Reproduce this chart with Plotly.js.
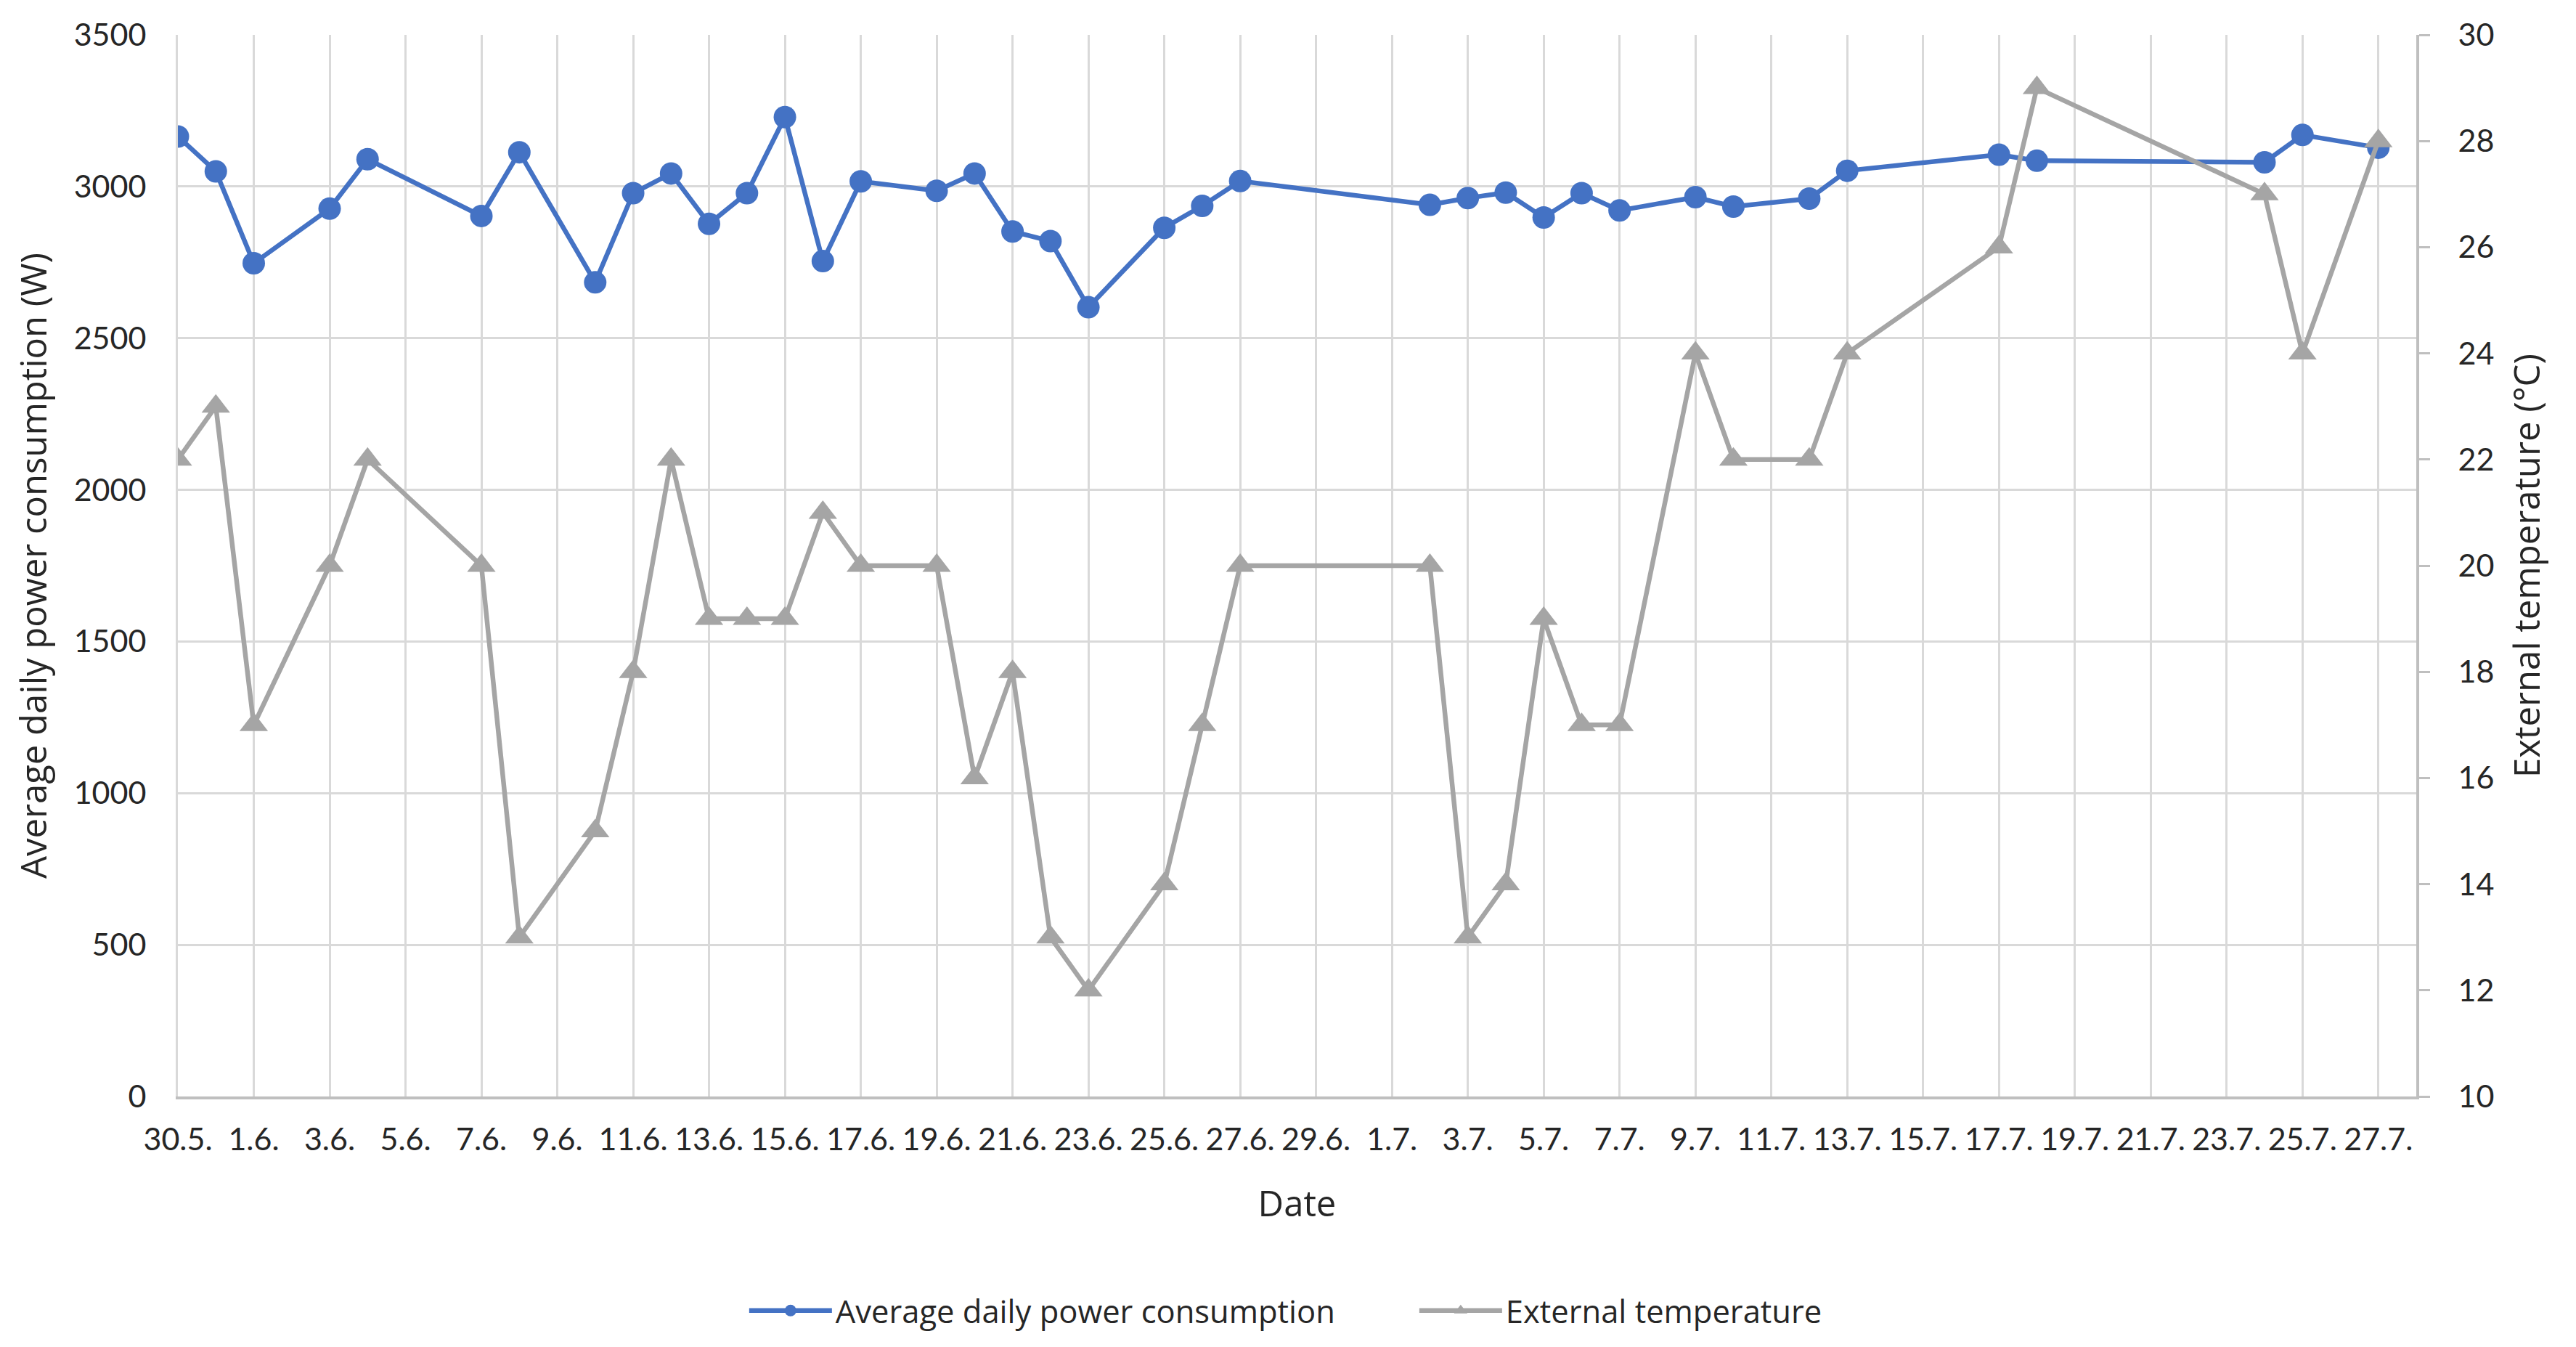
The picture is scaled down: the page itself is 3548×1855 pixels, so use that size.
<!DOCTYPE html>
<html>
<head>
<meta charset="utf-8">
<script src="https://cdn.plot.ly/plotly-3.0.1.min.js"></script>
<style>html,body{margin:0;padding:0;background:#ffffff;}</style>
</head>
<body>
<div id="chart" style="width:3548px;height:1855px;"></div>
<script>
// Measurement dates (day.month.)
const dates = [
  '2021-05-30','2021-05-31','2021-06-01','2021-06-03','2021-06-04','2021-06-07','2021-06-08',
  '2021-06-10','2021-06-11','2021-06-12','2021-06-13','2021-06-14','2021-06-15','2021-06-16',
  '2021-06-17','2021-06-19','2021-06-20','2021-06-21','2021-06-22','2021-06-23','2021-06-25',
  '2021-06-26','2021-06-27','2021-07-02','2021-07-03','2021-07-04','2021-07-05','2021-07-06',
  '2021-07-07','2021-07-09','2021-07-10','2021-07-12','2021-07-13','2021-07-17','2021-07-18',
  '2021-07-24','2021-07-25','2021-07-27'
];
// Average daily power consumption (W)
const power = [
  3165, 3050, 2747, 2927, 3090, 2903, 3113,
  2684, 2978, 3043, 2877, 2978, 3229, 2754,
  3017, 2986, 3043, 2852, 2820, 2602, 2864,
  2936, 3018, 2940, 2962, 2980, 2898, 2978,
  2921, 2965, 2934, 2960, 3052, 3105, 3085,
  3080, 3170, 3128
];
// External temperature (°C)
const temperature = [
  22, 23, 17, 20, 22, 20, 13,
  15, 18, 22, 19, 19, 19, 21,
  20, 20, 16, 18, 13, 12, 14,
  17, 20, 20, 13, 14, 19, 17,
  17, 24, 22, 22, 24, 26, 29,
  27, 24, 28
];
const seriesNames = ['Average daily power consumption', 'External temperature'];
const axisTitles = {
  x: 'Date',
  y: 'Average daily power consumption (W)',
  y2: 'External temperature (°C)'
};
const xRange = ['2021-05-30', '2021-07-28'];
const powerRange = [0, 3500];
const tempRange = [10, 30];

const tickFont = {family: 'Lato, "Open Sans", sans-serif', size: 43, color: '#262626'};
const titleFont = {family: '"Open Sans", sans-serif', size: 49, color: '#262626'};

const traces = [
  {
    x: dates, y: power, name: seriesNames[0], type: 'scatter', mode: 'lines+markers',
    line: {color: '#4472C4', width: 6.5},
    marker: {symbol: 'circle', size: 31, color: '#4472C4'},
    yaxis: 'y'
  },
  {
    x: dates, y: temperature, name: seriesNames[1], type: 'scatter', mode: 'lines+markers',
    line: {color: '#A5A5A5', width: 6.5},
    marker: {symbol: 'triangle-up', size: 34, color: '#A5A5A5'},
    yaxis: 'y2'
  }
];

const layout = {
  width: 3548, height: 1855,
  paper_bgcolor: '#ffffff', plot_bgcolor: '#ffffff',
  margin: {l: 245, r: 220, t: 48, b: 345, autoexpand: false},
  showlegend: true,
  legend: {
    orientation: 'h', x: 0.2536, xanchor: 'left', y: -0.2018, yanchor: 'middle',
    font: {family: '"Open Sans", sans-serif', size: 43.5, color: '#262626'},
    itemwidth: 114, entrywidth: 794, traceorder: 'normal'
  },
  xaxis: {
    type: 'date', range: xRange, tick0: '2021-05-30', dtick: 172800000,
    tickformat: '%-d.%-m.', tickangle: 0, ticks: '',
    showgrid: true, gridcolor: '#d9d9d9', gridwidth: 3,
    showline: true, linecolor: '#bfbfbf', linewidth: 4, zeroline: false,
    tickfont: tickFont, ticklabelstandoff: 18,
    title: {text: axisTitles.x, font: titleFont, standoff: 50}
  },
  yaxis: {
    range: powerRange, tick0: 0, dtick: 500, ticks: '',
    showgrid: true, gridcolor: '#d9d9d9', gridwidth: 3,
    showline: true, linecolor: '#d9d9d9', linewidth: 3, zeroline: false,
    tickfont: tickFont, ticklabelstandoff: 32,
    title: {text: axisTitles.y, font: titleFont, standoff: 22}
  },
  yaxis2: {
    overlaying: 'y', side: 'right', range: tempRange, tick0: 10, dtick: 2,
    showgrid: false, zeroline: false,
    showline: true, linecolor: '#bfbfbf', linewidth: 4,
    ticks: 'outside', ticklen: 15, tickwidth: 3, tickcolor: '#bfbfbf',
    tickfont: tickFont, ticklabelstandoff: 30,
    title: {text: axisTitles.y2, font: titleFont, standoff: 30}
  }
};

Plotly.newPlot('chart', traces, layout, {displayModeBar: false, staticPlot: true});
</script>
</body>
</html>
